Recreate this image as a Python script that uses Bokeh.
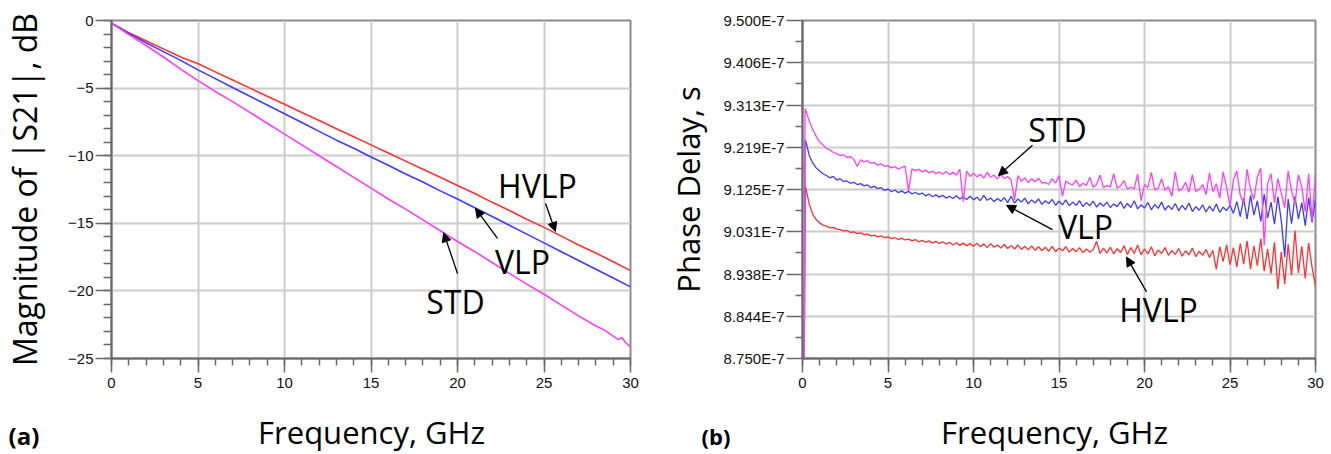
from bokeh.plotting import figure
from bokeh.layouts import row, column
from bokeh.models import (Range1d, SingleIntervalTicker, FixedTicker, Label,
                          Arrow, NormalHead)
from bokeh.embed import file_html
from bokeh.resources import INLINE

# ---------------- (a) Magnitude of |S21|, dB ----------------
freq_s21 = [0, 1, 2, 3, 4, 5, 6, 7, 8, 9, 10, 11, 12, 13, 14, 15,
            16, 17, 18, 19, 20, 21, 22, 23, 24, 25, 26, 27, 28, 29, 30]
s21_hvlp = [-0.2, -0.9, -1.5, -2.1, -2.7, -3.2, -3.8, -4.4, -5.0, -5.6, -6.2,
            -6.8, -7.4, -8.0, -8.6, -9.2, -9.8, -10.4, -11.0, -11.6, -12.2,
            -12.8, -13.45, -14.05, -14.7, -15.3, -15.95, -16.6, -17.2, -17.85, -18.5]
s21_vlp = [-0.2, -0.95, -1.65, -2.3, -2.95, -3.65, -4.3, -4.95, -5.6, -6.25, -6.9,
           -7.55, -8.2, -8.85, -9.45, -10.1, -10.7, -11.35, -11.95, -12.6, -13.2,
           -13.85, -14.5, -15.15, -15.8, -16.45, -17.1, -17.75, -18.4, -19.05, -19.7]
freq_s21_std = [0, 1, 2, 3, 4, 5, 6, 7, 8, 9, 10, 11, 12, 13, 14, 15,
                16, 17, 18, 19, 20, 21, 22, 23, 24, 25, 26, 27, 28, 28.5, 29,
                29.3, 29.5, 29.7, 30]
s21_std = [-0.2, -1.05, -1.85, -2.7, -3.6, -4.45, -5.25, -6.0, -6.8, -7.6, -8.4,
           -9.2, -10.0, -10.8, -11.6, -12.4, -13.2, -13.95, -14.75, -15.55, -16.35,
           -17.1, -17.9, -18.7, -19.5, -20.25, -21.05, -21.85, -22.6, -22.9, -23.35,
           -23.6, -23.45, -23.8, -24.15]

# ---------------- (b) Phase delay (values in ns) ----------------
freq_pd = [0.1, 0.15] + [round(0.2 * k, 1) for k in range(1, 151)]
pd_std = [870.0, 930.4,
    930.0, 927.6, 925.8, 924.3, 923.1, 922.4, 921.6, 921.3, 920.7, 920.5,
    920.0, 920.2, 919.6, 919.8, 919.2, 917.6, 919.1, 918.6, 918.9, 918.3,
    918.5, 917.9, 918.2, 917.6, 917.8, 917.3, 917.6, 917.0, 917.4, 917.7,
    912.2, 917.1, 916.7, 917.0, 916.4, 916.8, 916.2, 916.6, 916.0, 916.4,
    915.9, 916.5, 915.8, 916.3, 915.7, 917.0, 909.8, 916.6, 915.4, 916.1,
    915.3, 915.9, 915.0, 916.3, 915.2, 915.7, 914.8, 915.9, 914.9, 915.4,
    914.6, 910.2, 915.6, 914.3, 915.1, 914.0, 914.9, 914.2, 915.0, 913.9,
    914.1, 913.6, 914.9, 913.9, 915.6, 911.0, 914.4, 913.8, 913.5, 914.6,
    913.1, 913.9, 913.4, 915.2, 913.0, 913.6, 915.7, 912.9, 913.4, 913.1,
    916.0, 912.8, 913.3, 914.5, 912.6, 913.0, 912.7, 915.9, 910.0, 913.6,
    912.9, 916.3, 912.4, 912.8, 914.9, 912.3, 913.1, 911.0, 916.4, 912.2,
    912.6, 914.1, 911.9, 915.8, 912.1, 912.5, 913.6, 911.4, 916.2, 912.0,
    913.8, 910.6, 916.4, 912.9, 908.8, 914.7, 916.6, 911.2, 909.4, 917.0,
    912.5, 910.3, 915.4, 917.2, 900.1, 913.8, 916.0, 909.5, 914.9, 911.7,
    908.4, 916.6, 912.2, 909.3, 915.8, 913.0, 907.6, 916.0, 905.5, 915.9]
pd_vlp = [870.0, 923.5,
    923.1, 920.0, 918.4, 917.3, 916.6, 916.0, 915.6, 915.1, 915.4, 914.6,
    914.9, 914.3, 914.4, 913.9, 914.1, 913.6, 913.8, 913.3, 913.5, 912.9,
    913.2, 912.7, 912.9, 912.3, 912.6, 912.0, 912.4, 911.8, 912.2, 911.7,
    912.1, 911.5, 911.9, 911.4, 911.7, 911.1, 911.5, 910.9, 911.3, 910.8,
    911.2, 910.6, 911.0, 910.5, 911.1, 910.4, 910.9, 910.3, 911.0, 910.2,
    910.8, 910.0, 911.2, 910.1, 910.6, 909.8, 910.5, 909.9, 910.7, 909.6,
    911.0, 909.5, 910.4, 909.7, 910.6, 909.3, 910.2, 909.5, 910.4, 909.2,
    910.0, 909.4, 910.3, 909.0, 909.9, 909.1, 910.2, 908.9, 909.7, 909.0,
    910.0, 908.7, 909.6, 908.9, 909.9, 908.6, 909.5, 908.8, 909.7, 908.5,
    909.3, 908.7, 909.8, 908.3, 909.4, 908.5, 910.0, 908.2, 909.1, 908.4,
    909.6, 908.0, 909.2, 908.3, 909.7, 907.9, 908.9, 908.1, 909.4, 907.8,
    909.0, 908.0, 909.5, 907.6, 908.7, 907.9, 909.1, 907.5, 908.8, 907.7,
    909.3, 907.4, 908.6, 907.8, 909.0, 907.2, 909.8, 906.5, 910.6, 905.9,
    911.2, 906.8, 910.0, 905.4, 911.5, 906.2, 909.7, 904.8, 910.9, 905.6,
    897.5, 910.4, 904.9, 911.0, 906.0, 909.6, 904.5, 910.7, 905.2, 910.3]
pd_hvlp = [870.0, 913.2,
    912.7, 909.2, 907.0, 905.8, 905.1, 904.6, 904.4, 904.0, 904.1, 903.7,
    903.6, 903.3, 903.4, 903.0, 903.1, 902.7, 902.9, 902.5, 902.6, 902.2,
    902.4, 902.0, 902.2, 901.8, 902.0, 901.6, 901.8, 901.4, 901.7, 901.3,
    901.5, 901.1, 901.4, 900.9, 901.2, 900.8, 901.1, 900.6, 901.0, 900.5,
    900.9, 900.4, 900.8, 900.2, 900.7, 900.1, 900.6, 900.0, 900.5, 899.9,
    900.6, 899.8, 900.4, 899.6, 900.5, 899.7, 900.2, 899.5, 900.3, 899.4,
    900.1, 899.3, 900.2, 899.2, 899.9, 899.1, 900.0, 899.0, 899.8, 898.9,
    899.7, 898.8, 899.9, 898.7, 899.5, 898.9, 899.8, 898.6, 899.4, 898.7,
    899.6, 898.5, 899.3, 898.6, 899.2, 901.0, 898.3, 899.5, 898.4, 899.7,
    898.2, 899.4, 898.5, 900.0, 898.1, 899.6, 898.3, 900.2, 898.0, 899.3,
    898.2, 899.8, 897.8, 899.1, 898.3, 899.6, 897.9, 899.0, 898.1, 899.4,
    897.7, 898.9, 898.0, 899.5, 897.6, 898.8, 897.9, 899.2, 897.4, 899.0,
    894.8, 899.8, 896.5, 900.2, 895.8, 899.6, 895.3, 900.5, 896.0, 901.1,
    894.9, 900.0, 895.6, 901.6, 894.4, 899.3, 893.8, 900.8, 890.4, 898.6,
    891.5, 900.4, 893.5, 903.4, 894.0, 899.9, 892.8, 900.6, 895.2, 891.0]
pd_tick_values = [875.0, 884.375, 893.75, 903.125, 912.5, 921.875, 931.25, 940.625, 950.0]
pd_tick_labels = ["8.750E-7", "8.844E-7", "8.938E-7", "9.031E-7", "9.125E-7",
                  "9.219E-7", "9.313E-7", "9.406E-7", "9.500E-7"]

RED = "#ff3030"
BLUE = "#3c3cff"
MAG = "#ff3cff"
TICK_FONT = "Liberation Sans"
TXT_FONT = "Open Sans"
HM = 410          # height of the two chart figures
HS = 43           # height of the caption strip below them
W1, W2 = 658, 672


def style(p, yticker, ytick_out, ytick_minor_out):
    xt = SingleIntervalTicker(interval=5, num_minor_ticks=5)
    p.xaxis.ticker = xt
    p.xgrid.ticker = xt
    p.yaxis.ticker = yticker
    p.ygrid.ticker = yticker
    for ax in (p.xaxis[0], p.yaxis[0]):
        ax.axis_line_color = "#6a6a6a"
        ax.axis_line_width = 2
        ax.major_tick_line_color = "#6a6a6a"
        ax.minor_tick_line_color = "#6a6a6a"
        ax.major_tick_line_width = 1.5
        ax.minor_tick_line_width = 1.5
        ax.major_tick_in = 0
        ax.minor_tick_in = 0
        ax.major_label_text_font = TICK_FONT
        ax.major_label_text_font_size = "15px"
        ax.major_label_text_color = "#111111"
        ax.axis_label_text_font = TXT_FONT
        ax.axis_label_text_font_style = "normal"
        ax.axis_label_text_color = "black"
    p.xaxis.major_tick_out = 14
    p.xaxis.minor_tick_out = 7
    p.xaxis.major_label_standoff = 5
    p.yaxis.major_tick_out = ytick_out
    p.yaxis.minor_tick_out = ytick_minor_out
    p.yaxis.major_label_standoff = 2
    for g in (p.xgrid[0], p.ygrid[0]):
        g.grid_line_color = "#cccccc"
        g.grid_line_width = 2
    p.outline_line_color = "#8a8a8a"
    p.outline_line_width = 2
    p.background_fill_color = "white"
    p.border_fill_color = "white"


def text(p, x, y, s, size, **kw):
    p.add_layout(Label(x=x, y=y, text=s, text_font=TXT_FONT, text_font_size=size,
                       text_color="black", **kw))


def arrow(p, x0, y0, x1, y1):
    p.add_layout(Arrow(end=NormalHead(size=9, fill_color="black", line_color="black",
                                      line_width=1),
                       x_start=x0, y_start=y0, x_end=x1, y_end=y1,
                       line_color="black", line_width=1.3))


# ---------- left figure ----------
p1 = figure(width=W1, height=HM, x_range=Range1d(0, 30), y_range=Range1d(-25, 0),
            output_backend="svg", toolbar_location=None,
            min_border_left=111, min_border_right=28, min_border_top=20,
            min_border_bottom=HM - 358)
style(p1, SingleIntervalTicker(interval=5, num_minor_ticks=5), 16, 8)
p1.yaxis.axis_label = "Magnitude of |S21|, dB"
p1.yaxis.axis_label_text_font_size = "32px"
p1.yaxis.axis_label_standoff = 19
p1.line(freq_s21, s21_hvlp, color=RED, line_width=1.6)
p1.line(freq_s21, s21_vlp, color=BLUE, line_width=1.6)
p1.line(freq_s21_std, s21_std, color=MAG, line_width=1.6)

text(p1, 24.62, -12.24, "HVLP", "32px", text_align="center", text_baseline="alphabetic")
text(p1, 23.76, -17.79, "VLP", "32px", text_align="center", text_baseline="alphabetic")
text(p1, 19.88, -20.75, "STD", "32px", text_align="center", text_baseline="alphabetic")
arrow(p1, 25.09, -13.54, 25.66, -15.6)
arrow(p1, 22.31, -16.12, 21.04, -13.9)
arrow(p1, 20.0, -18.71, 19.2, -15.7)

# ---------- right figure ----------
p2 = figure(width=W2, height=HM, x_range=Range1d(0, 30), y_range=Range1d(875, 950),
            output_backend="svg", toolbar_location=None,
            min_border_left=144, min_border_right=15, min_border_top=17,
            min_border_bottom=HM - 361)
minor_pd = [v + 4.6875 for v in pd_tick_values[:-1]]
style(p2, FixedTicker(ticks=pd_tick_values, minor_ticks=minor_pd), 16, 7)
p2.yaxis.major_label_overrides = dict(zip(pd_tick_values, pd_tick_labels))
p2.yaxis.axis_label = "Phase Delay, s"
p2.yaxis.axis_label_text_font_size = "31px"
p2.yaxis.axis_label_standoff = 12
p2.line(freq_pd, pd_hvlp, color=RED, line_width=1.3)
p2.line(freq_pd, pd_vlp, color=BLUE, line_width=1.3)
p2.line(freq_pd, pd_std, color=MAG, line_width=1.3)

text(p2, 14.91, 925.8, "STD", "32px", text_align="center", text_baseline="alphabetic")
text(p2, 16.55, 904.4, "VLP", "32px", text_align="center", text_baseline="alphabetic")
text(p2, 20.82, 885.9, "HVLP", "32px", text_align="center", text_baseline="alphabetic")
arrow(p2, 13.45, 922.3, 11.46, 915.6)
arrow(p2, 14.62, 903.6, 11.93, 909.0)
arrow(p2, 20.12, 889.8, 18.95, 897.5)

# ---------- caption strip: panel letters and x-axis titles ----------
strip = figure(width=W1 + W2, height=HS, x_range=Range1d(0, W1 + W2),
               y_range=Range1d(HS, 0), output_backend="svg", toolbar_location=None,
               min_border=0, x_axis_type=None, y_axis_type=None)
strip.outline_line_color = None
strip.background_fill_color = "white"
strip.border_fill_color = "white"
strip.grid.visible = False
text(strip, 8, 25, "(a)", "24px", text_align="left", text_baseline="alphabetic",
     text_font_style="bold")
text(strip, 371, 21, "Frequency, GHz", "31px", text_align="center",
     text_baseline="alphabetic")
text(strip, 701, 25, "(b)", "22px", text_align="left", text_baseline="alphabetic",
     text_font_style="bold")
text(strip, 1054, 21, "Frequency, GHz", "31px", text_align="center",
     text_baseline="alphabetic")

layout = column(row(p1, p2), strip)
open("out.html", "w").write(file_html(layout, INLINE))
